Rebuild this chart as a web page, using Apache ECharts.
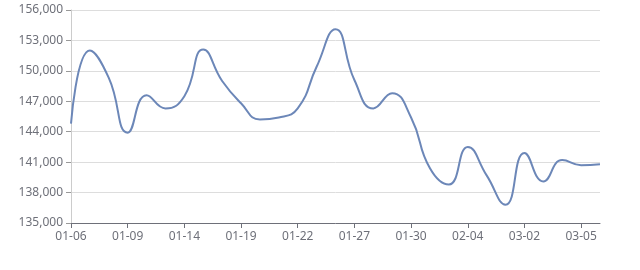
<!DOCTYPE html>
<html>
<head>
<meta charset="utf-8">
<script src="https://cdn.jsdelivr.net/npm/echarts@6/dist/echarts.min.js"></script>
<style>html,body{margin:0;padding:0;background:#fff}#c{width:640px;height:270px}</style>
</head>
<body>
<div id="c"></div>
<script>
const categories = ['01-06','01-07','01-08','01-09','01-12','01-13','01-14','01-15','01-16','01-19','01-20','01-21','01-22','01-23','01-26','01-27','01-28','01-29','01-30','02-02','02-03','02-04','02-05','02-06','03-02','03-03','03-04','03-05','03-06'];
const prices = [144800,152000,149300,143900,147600,146300,147500,152100,149000,146800,145200,145400,146300,150400,154100,149100,146300,147800,145400,140400,138800,142500,139700,136800,141900,139100,141200,140700,140800];
const yMin = 135000, yMax = 156000, yStep = 3000;

const chart = echarts.init(document.getElementById('c'));
chart.setOption({
  animation: false,
  grid: {left: 71, right: 40, top: 10, bottom: 47},
  xAxis: {
    type: 'category',
    data: categories,
    boundaryGap: false,
    axisLine: {lineStyle: {color: '#6e7079'}},
    axisTick: {alignWithLabel: true, interval: 2},
    axisLabel: {interval: 2, color: '#6e7079', fontSize: 12, margin: 8, fontFamily: 'Noto Sans'}
  },
  yAxis: {
    type: 'value',
    min: yMin, max: yMax, interval: yStep,
    axisLine: {show: true, lineStyle: {color: '#cccccc'}},
    axisTick: {show: true, lineStyle: {color: '#999999'}},
    splitLine: {lineStyle: {color: '#dddddd'}},
    axisLabel: {color: '#6e7079', fontSize: 12, fontFamily: 'Noto Sans',
      formatter: v => v.toLocaleString('en-US')}
  },
  series: [{
    type: 'line',
    data: prices,
    smooth: true,
    symbol: 'none',
    lineStyle: {color: '#6c87b8', width: 2}
  }]
});
</script>
</body>
</html>
